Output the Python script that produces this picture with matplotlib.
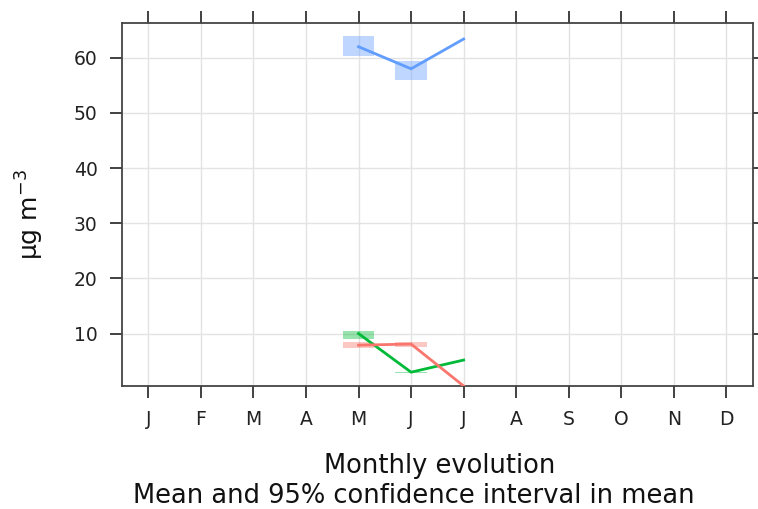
import matplotlib
matplotlib.use("Agg")
import matplotlib.pyplot as plt
from matplotlib.patches import Rectangle

months = ["J", "F", "M", "A", "M", "J", "J", "A", "S", "O", "N", "D"]

# series: month index (1-based), mean, lower CI, upper CI
blue_x = [5, 6, 7]
blue_mean = [62.0, 58.0, 63.4]
blue_lo = [60.4, 56.0, None]
blue_hi = [64.0, 59.5, None]

green_x = [5, 6, 7]
green_mean = [10.0, 3.0, 5.2]
green_lo = [9.1, 2.9, None]
green_hi = [10.5, 3.1, None]

red_x = [5, 6, 7]
red_mean = [7.9, 8.1, 0.5]
red_lo = [7.3, 7.6, None]
red_hi = [8.5, 8.5, None]

colors = {"blue": "#619CFF", "green": "#00BA38", "red": "#F8766D"}

W, H = 758, 509
fig = plt.figure(figsize=(W / 100, H / 100), dpi=100)
ax = fig.add_axes([0.161, 0.2417, 0.832, 0.7131])

ax.set_xlim(0.5, 12.5)
ax.set_ylim(0.5, 66.3)

for xs, m, lo, hi, c in [
    (blue_x, blue_mean, blue_lo, blue_hi, colors["blue"]),
    (green_x, green_mean, green_lo, green_hi, colors["green"]),
    (red_x, red_mean, red_lo, red_hi, colors["red"]),
]:
    for x, l, h in zip(xs, lo, hi):
        if l is None:
            continue
        ax.add_patch(Rectangle((x - 0.3, l), 0.6, h - l, facecolor=c,
                               alpha=0.4, edgecolor="none", zorder=2))
    ax.plot(xs, m, color=c, lw=2, zorder=3, clip_on=True)

ax.set_xticks(range(1, 13))
ax.set_xticklabels(months)
ax.set_yticks([10, 20, 30, 40, 50, 60])
ax.grid(True, color="#e3e3e3", lw=1)
ax.set_axisbelow(True)
ax.tick_params(direction="out", top=True, right=True, length=8.5,
               width=1.3, color="#333333", labelsize=13.5, labelcolor="#222222")
ax.tick_params(axis="y", pad=9)
ax.tick_params(axis="x", pad=9)
for s in ax.spines.values():
    s.set_color("#444444")
    s.set_linewidth(1.3)

fig.text(30 / W, 1 - 215 / H, r"$\mathrm{\mu g\ m^{-3}}$", fontsize=18,
         rotation=90, ha="center", va="center", color="#111111")
fig.text(440 / W, 1 - 473 / H, "Monthly evolution", fontsize=18.5,
         ha="center", va="baseline", color="#111111")
fig.text(414 / W, 1 - 503 / H, "Mean and 95% confidence interval in mean",
         fontsize=18.5, ha="center", va="baseline", color="#111111")

fig.savefig("out.png", dpi=100)
